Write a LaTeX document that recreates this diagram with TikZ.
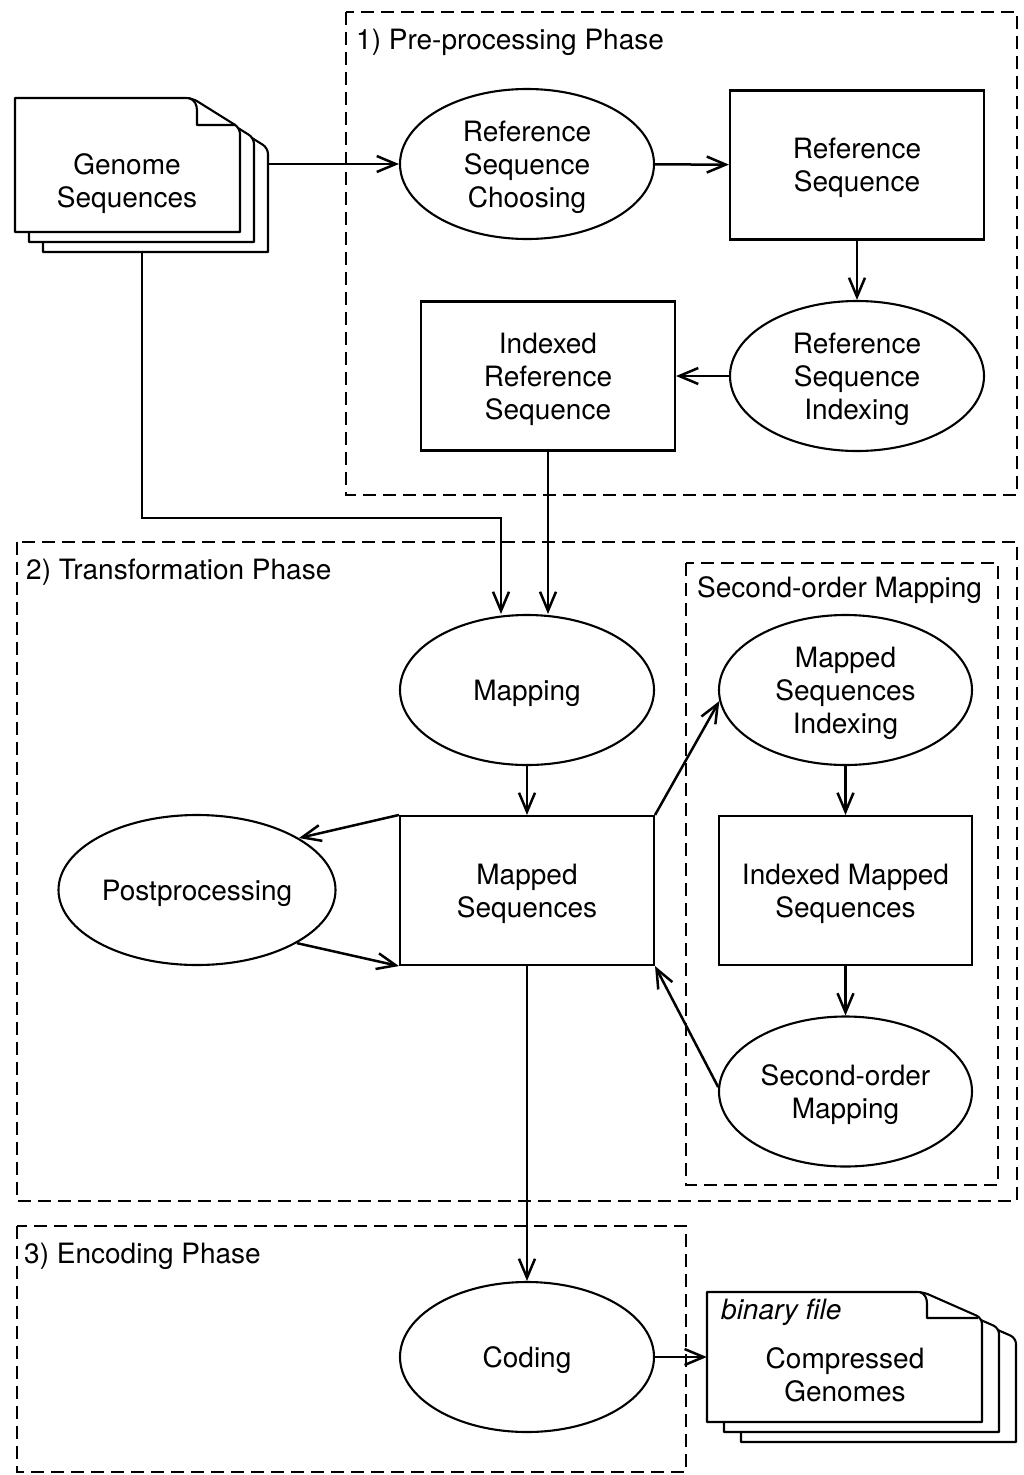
\documentclass[tikz,border=0pt]{standalone}
\usepackage{fontspec}
\setmainfont{TeX Gyre Heros}
\usetikzlibrary{arrows.meta,shapes.geometric}
\newcommand\sv{\rule{0pt}{26.5pt}}
\begin{document}
\begin{tikzpicture}[x=1pt,y=-1pt,
 every node/.style={font=\fontsize{28}{33}\selectfont, align=center, inner sep=0pt},
 ell/.style={draw, ellipse, line width=2.1pt, minimum width=254pt, minimum height=150pt},
 box/.style={draw, rectangle, line width=2.1pt, minimum width=254pt, minimum height=149pt},
 arr/.style={line width=2.5pt, -{Straight Barb[length=19pt,width=16pt]}},
 phase/.style={draw, dash pattern=on 13pt off 7pt, line width=1.8pt},
 lbl/.style={anchor=west},
 page/.style={draw, fill=white, line width=2.1pt, line join=round},
 fold/.style={draw, line width=2.1pt, line join=round}
]
\useasboundingbox (0,0) rectangle (1023,1475);

% phases
\draw[phase] (346,12) rectangle (1017,495);
\draw[phase] (17,542) rectangle (1017,1201);
\draw[phase] (17,1226) rectangle (686,1472);
\draw[phase] (686,563) rectangle (998,1185);
\node[lbl] (l1) at (356,42) {1) Pre-processing Phase};
\node[lbl] (l2) at (26,572) {2) Transformation Phase};
\node[lbl] (l4) at (697,590) {Second-order Mapping};
\node[lbl] (l3) at (24,1256) {3) Encoding Phase};

% genome sequences document stack
\foreach \dx/\dy in {28/20, 14/10} {
  \draw[page] (15+\dx,98+\dy) [rounded corners=6pt] -- (192+\dx,98+\dy) -- (240+\dx,128+\dy) [sharp corners] -- (240+\dx,232+\dy) -- (15+\dx,232+\dy) -- cycle;
}
\draw[page] (15,98) [rounded corners=6pt] -- (192,98) -- (240,128) [sharp corners] -- (240,232) -- (15,232) -- cycle;
\draw[fold] (189,98) .. controls (195,100) and (197,105) .. (197,111) -- (197,125) -- (236,125);
\node (gs) at (127,184) {Genome\\Sequences};
\node[minimum width=254pt, minimum height=154pt] (gsall) at (142,175) {};

% compressed genomes document stack
\foreach \dx/\dy in {34/20, 17/10} {
  \draw[page] (707+\dx,1292+\dy) [rounded corners=6pt] -- (923+\dx,1292+\dy) -- (982+\dx,1318+\dy) [sharp corners] -- (982+\dx,1422+\dy) -- (707+\dx,1422+\dy) -- cycle;
}
\draw[page] (707,1292) [rounded corners=6pt] -- (923,1292) -- (982,1318) [sharp corners] -- (982,1422) -- (707,1422) -- cycle;
\draw[fold] (920,1292) .. controls (925,1294) and (927,1298) .. (927,1304) -- (927,1318) -- (978,1318);
\node[anchor=west, font=\fontsize{28}{33}\selectfont\itshape] (bf) at (721,1312) {binary file};
\node (crg) at (845,1375) {Compressed\\Genomes};
\node[minimum width=308pt, minimum height=150pt] (crgall) at (861,1367) {};

% nodes
\node[ell] (rsc) at (527,164) {\sv Reference\\Sequence\\Choosing};
\node[box] (rs) at (857,165) {\sv Reference\\Sequence};
\node[ell] (rsi) at (857,376) {\sv Reference\\Sequence\\Indexing};
\node[box] (irs) at (548,376) {\sv Indexed\\Reference\\Sequence};
\node[ell] (map) at (527,690) {\sv Mapping};
\node[box] (ms) at (527,890.5) {\sv Mapped\\Sequences};
\node[ell, minimum width=277pt] (pp) at (197,890) {\sv Postprocessing};
\node[ell, minimum width=253pt] (msi) at (845.5,690) {\sv Mapped\\Sequences\\Indexing};
\node[box, minimum width=253pt] (ims) at (845.5,890.5) {\sv Indexed Mapped\\Sequences};
\node[ell, minimum width=253pt] (som) at (845.5,1091.5) {\sv Second-order\\Mapping};
\node[ell] (cod) at (527,1357) {\sv Coding};

% connectors
\coordinate (gsturn) at (501,518);
\draw[arr] (gsall.east |- rsc) -- (rsc);
\draw[arr] (gsall.south) |- (gsturn) -- (gsturn |- map.north);
\draw[arr] (rsc) -- (rs);
\draw[arr] (rs) -- (rsi);
\draw[arr] (rsi) -- (irs);
\draw[arr] (irs.south) -- (irs.south |- map.north);
\draw[arr] (map) -- (ms);
\draw[arr] (ms.north west) -- (pp.27);
\draw[arr] (pp.-28) -- (ms.south west);
\draw[arr] (ms.north east) -- (msi.185);
\draw[arr] (msi) -- (ims);
\draw[arr] (ims) -- (som);
\draw[arr] (som.178) -- (ms.south east);
\draw[arr] (ms) -- (cod);
\draw[arr] (cod) -- (cod -| crgall.west);
\end{tikzpicture}
\end{document}
